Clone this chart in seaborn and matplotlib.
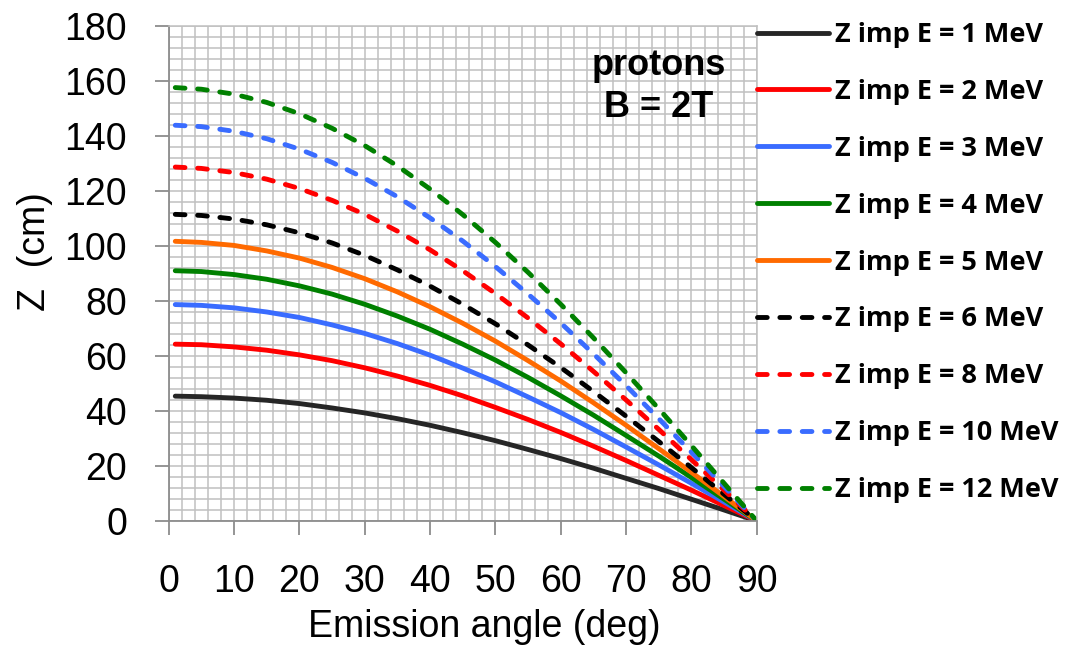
import numpy as np
import matplotlib
matplotlib.use("Agg")
import matplotlib.pyplot as plt
import seaborn as sns

# emission angle (deg) and Z impact (cm)
angles = [1, 5, 10, 15, 20, 25, 30, 35, 40, 45, 50, 55, 60, 65, 70, 75, 80, 85, 90]

z_1mev = [45.4, 45.2, 44.7, 43.9, 42.7, 41.1, 39.3, 37.2, 34.8, 32.1, 29.2, 26.0, 22.7, 19.2, 15.5, 11.8, 7.9, 4.0, 0]
z_2mev = [64.3, 64.1, 63.3, 62.1, 60.4, 58.3, 55.7, 52.7, 49.3, 45.5, 41.3, 36.9, 32.2, 27.2, 22.0, 16.6, 11.2, 5.6, 0]
z_3mev = [78.7, 78.4, 77.5, 76.0, 74.0, 71.3, 68.2, 64.5, 60.3, 55.6, 50.6, 45.1, 39.4, 33.3, 26.9, 20.4, 13.7, 6.9, 0]
z_4mev = [91.0, 90.7, 89.6, 87.9, 85.5, 82.5, 78.8, 74.5, 69.7, 64.3, 58.5, 52.2, 45.5, 38.5, 31.1, 23.6, 15.8, 7.9, 0]
z_5mev = [101.7, 101.3, 100.2, 98.2, 95.6, 92.2, 88.1, 83.3, 77.9, 71.9, 65.4, 58.3, 50.9, 43.0, 34.8, 26.3, 17.7, 8.9, 0]
z_6mev = [111.5, 111.1, 109.8, 107.7, 104.8, 101.1, 96.6, 91.3, 85.4, 78.8, 71.7, 64.0, 55.8, 47.1, 38.1, 28.9, 19.4, 9.7, 0]
z_8mev = [128.7, 128.2, 126.7, 124.3, 120.9, 116.6, 111.5, 105.4, 98.6, 91.0, 82.7, 73.8, 64.4, 54.4, 44.0, 33.3, 22.3, 11.2, 0]
z_10mev = [143.9, 143.4, 141.7, 139.0, 135.2, 130.4, 124.6, 117.9, 110.2, 101.8, 92.5, 82.5, 72.0, 60.8, 49.2, 37.2, 25.0, 12.5, 0]
z_12mev = [157.6, 157.0, 155.2, 152.2, 148.1, 142.8, 136.5, 129.1, 120.7, 111.4, 101.3, 90.4, 78.8, 66.6, 53.9, 40.8, 27.4, 13.7, 0]

labels = ["Z imp E = 1 MeV", "Z imp E = 2 MeV", "Z imp E = 3 MeV", "Z imp E = 4 MeV",
          "Z imp E = 5 MeV", "Z imp E = 6 MeV", "Z imp E = 8 MeV", "Z imp E = 10 MeV",
          "Z imp E = 12 MeV"]
series = [z_1mev, z_2mev, z_3mev, z_4mev, z_5mev, z_6mev, z_8mev, z_10mev, z_12mev]
colors = ["#262626", "#ff0000", "#3a6cff", "#008000", "#ff6a00",
          "#000000", "#ff0000", "#3a6cff", "#008000"]
dashed = [False, False, False, False, False, True, True, True, True]

sns.set_style("white")
plt.rcParams["font.family"] = ["Liberation Sans", "DejaVu Sans"]
plt.rcParams["text.color"] = "black"
plt.rcParams["axes.labelcolor"] = "black"

fig = plt.figure(figsize=(10.68, 6.46), dpi=100)
ax = fig.add_axes([0.158, 0.1935, 0.5506, 0.7663])

for vals, lab, col, dsh in zip(series, labels, colors, dashed):
    sns.lineplot(x=angles, y=vals, ax=ax, color=col, label=lab, linewidth=3.5)
    ln = ax.lines[-1]
    ln.set_solid_capstyle("round")
    if dsh:
        ln.set_dashes((2.0, 2.6))
        ln.set_dash_capstyle("round")

ax.set_xlim(0, 90)
ax.set_ylim(0, 180)
ax.set_xticks(np.arange(0, 91, 10))
ax.set_yticks(np.arange(0, 181, 20))
ax.set_xticks(np.arange(0, 91, 2), minor=True)
ax.set_yticks(np.arange(0, 181, 4), minor=True)
ax.grid(which="both", color="#c0c0c0", linewidth=1.1)
ax.set_axisbelow(True)

for side in ["top", "right"]:
    ax.spines[side].set_color("#c0c0c0")
    ax.spines[side].set_linewidth(1.1)
for side in ["left", "bottom"]:
    ax.spines[side].set_color("#8c8c8c")
    ax.spines[side].set_linewidth(1.3)

ax.tick_params(which="major", direction="out", length=10, width=1.3, color="#8c8c8c",
               labelcolor="black", labelsize=27, left=True, bottom=True)
ax.tick_params(which="minor", length=0)
ax.tick_params(axis="x", pad=21)
ax.tick_params(axis="y", pad=20)

ax.set_xlabel("Emission angle (deg)", fontsize=27)
ax.set_ylabel("Z  (cm)", fontsize=27)
ax.xaxis.set_label_coords(0.536, -0.178)
ax.yaxis.set_label_coords(-0.197, 0.545)

ax.text(75, 158, "protons\nB = 2T", ha="center", va="center", fontsize=26,
        fontweight="bold", linespacing=1.25)

leg = ax.legend(loc="upper left", bbox_to_anchor=(1.0, 1.008), borderaxespad=0,
                borderpad=0, frameon=False, handlelength=2.65, handletextpad=0.22,
                labelspacing=1.14, prop={"family": "Open Sans", "weight": "bold", "size": 19.5})

fig.savefig("out.png", dpi=100)
